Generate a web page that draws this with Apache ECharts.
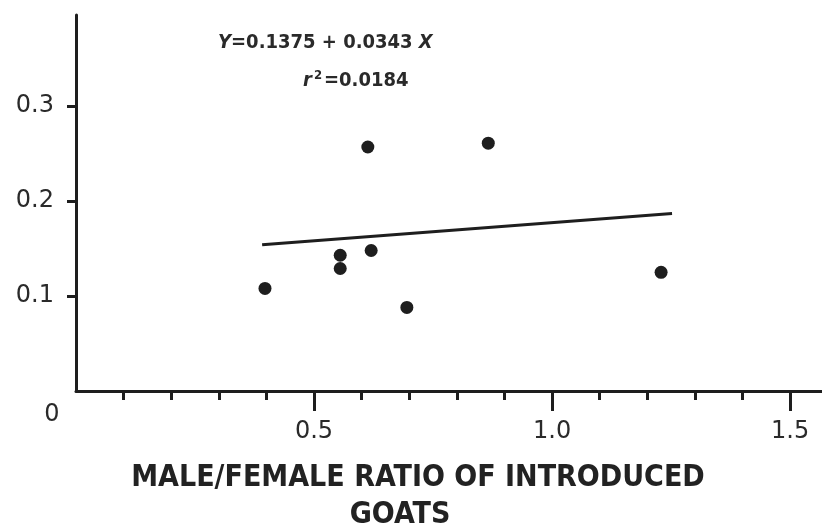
<!DOCTYPE html>
<html>
<head>
<meta charset="utf-8">
<script src="https://cdn.jsdelivr.net/npm/echarts@6/dist/echarts.min.js"></script>
<style>
html,body{margin:0;padding:0;background:#fff;}
#chartDiv{width:822px;height:531px;}
</style>
</head>
<body>
<div id="chartDiv"></div>
<script>
// ratio points
var ratioX = [0.397, 0.555, 0.555, 0.620, 0.613, 0.695, 0.866, 1.229];
var survivalY = [0.108, 0.143, 0.129, 0.148, 0.257, 0.088, 0.261, 0.125];
// fitted line as drawn
var fitX = [0.391, 1.252];
var fitY = [0.154, 0.187];
var xMajorTicks = [0.5, 1.0, 1.5];
var xMinorTicks = [0.1, 0.2, 0.3, 0.4, 0.6, 0.7, 0.8, 0.9, 1.1, 1.2, 1.3, 1.4];
var yTicks = [0.1, 0.2, 0.3];
var originLabel = '0';
var xTitle1 = 'MALE/FEMALE RATIO OF INTRODUCED';
var xTitle2 = 'GOATS';

var inkColor = '#1e1e1e';
var textColor = '#2a2a2a';
var xMax = 1.567, yMax = 0.396;

var points = [];
for (var i = 0; i < ratioX.length; i++) {
	points.push([ratioX[i], survivalY[i]]);
}
var fitData = [];
for (var j = 0; j < fitX.length; j++) {
	fitData.push([fitX[j], fitY[j]]);
}

var myChart = echarts.init(document.getElementById('chartDiv'));
var option = {
	backgroundColor: '#fff',
	animation: false,
	grid: { left: 76, top: 15, right: 0, bottom: 140 },
	xAxis: [
		{
			type: 'value', min: 0, max: xMax,
			axisLine: { show: true, lineStyle: { color: inkColor, width: 3 } },
			axisTick: { show: true, length: 9, customValues: xMinorTicks, lineStyle: { color: inkColor, width: 3 } },
			axisLabel: { show: false },
			splitLine: { show: false }
		},
		{
			type: 'value', min: 0, max: xMax, position: 'bottom',
			axisLine: { show: false },
			axisTick: { show: true, length: 20, customValues: xMajorTicks, lineStyle: { color: inkColor, width: 3 } },
			axisLabel: {
				show: true, customValues: xMajorTicks, margin: 29,
				color: textColor, fontSize: 24, fontFamily: 'DejaVu Sans',
				formatter: function (v) { return v.toFixed(1); }
			},
			splitLine: { show: false }
		}
	],
	yAxis: {
		type: 'value', min: 0, max: yMax,
		axisLine: { show: true, lineStyle: { color: inkColor, width: 3 } },
		axisTick: { show: true, length: 9, customValues: yTicks, lineStyle: { color: inkColor, width: 3 } },
		axisLabel: {
			show: true, customValues: yTicks, margin: 22,
			color: textColor, fontSize: 24, fontFamily: 'DejaVu Sans',
			formatter: function (v) { return v.toFixed(1); }
		},
		splitLine: { show: false }
	},
	graphic: [
		{
			type: 'text', left: 218, top: 33,
			style: {
				text: '{i|Y}=0.1375 + 0.0343 {i|X}',
				rich: { i: { fontStyle: 'italic', fontSize: 20, fontWeight: 'bold', fontFamily: 'DejaVu Sans Condensed', fill: textColor } },
				fontSize: 20, fontWeight: 'bold', fontFamily: 'DejaVu Sans Condensed', fill: textColor
			}
		},
		{
			type: 'text', left: 303, top: 69,
			style: {
				text: '{i|r}{s|2}=0.0184',
				rich: {
					i: { fontStyle: 'italic', fontSize: 20, fontWeight: 'bold', fontFamily: 'DejaVu Sans Condensed', fill: textColor },
					s: { fontSize: 13, fontWeight: 'bold', fontFamily: 'DejaVu Sans Condensed', fill: textColor, verticalAlign: 'top', padding: [0, 2, 10, 2] }
				},
				fontSize: 20, fontWeight: 'bold', fontFamily: 'DejaVu Sans Condensed', fill: textColor
			}
		},
		{
			type: 'text', x: 52, y: 415,
			style: { text: originLabel, align: 'center', verticalAlign: 'middle', fontSize: 24, fontFamily: 'DejaVu Sans', fill: textColor }
		},
		{
			type: 'text', x: 418, y: 478,
			style: {
				text: xTitle1, align: 'center', verticalAlign: 'middle',
				fontSize: 30, fontWeight: 'bold', fontFamily: 'DejaVu Sans Condensed', fill: '#222'
			}
		},
		{
			type: 'text', x: 400, y: 515,
			style: {
				text: xTitle2, align: 'center', verticalAlign: 'middle',
				fontSize: 30, fontWeight: 'bold', fontFamily: 'DejaVu Sans Condensed', fill: '#222'
			}
		}
	],
	series: [
		{
			type: 'scatter', data: points, symbol: 'circle', symbolSize: 13,
			itemStyle: { color: inkColor, opacity: 1 }
		},
		{
			type: 'line', data: fitData, symbol: 'none',
			lineStyle: { color: inkColor, width: 3 }
		}
	]
};
myChart.setOption(option);
</script>
</body>
</html>
